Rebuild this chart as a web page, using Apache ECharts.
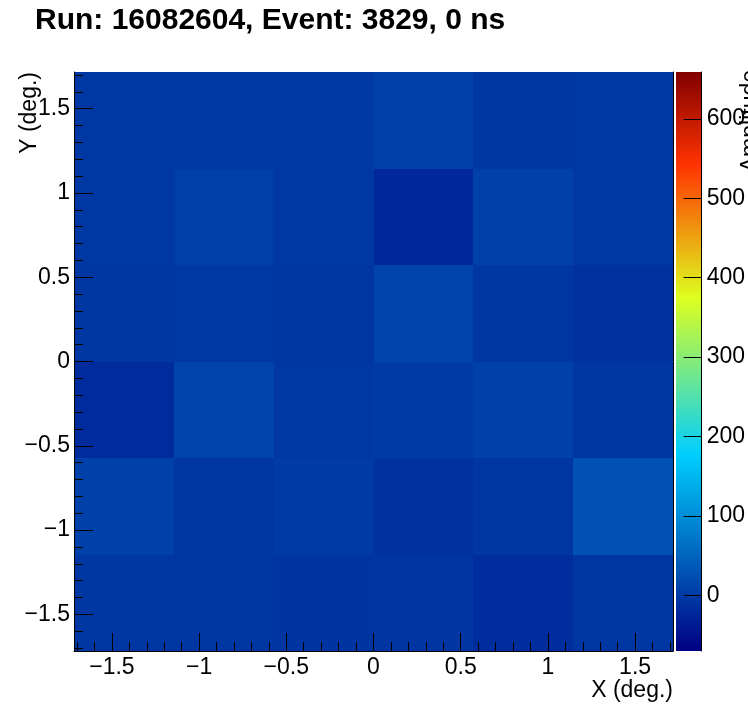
<!DOCTYPE html>
<html>
<head>
<meta charset="utf-8">
<script src="https://cdn.jsdelivr.net/npm/echarts@6/dist/echarts.min.js"></script>
<style>
  html, body { margin: 0; padding: 0; background: #ffffff; }
  #chart { width: 748px; height: 724px; }
</style>
</head>
<body>
<div id="chart"></div>
<script>
// ---- data ----
const titleText = 'Run: 16082604, Event: 3829, 0 ns';
const xTitle = 'X (deg.)';
const yTitle = 'Y (deg.)';
const zTitle = 'Amplitude';
// bin edges (deg.)
const xEdges = [-1.7175, -1.145, -0.5725, 0, 0.5725, 1.145, 1.7175];
const yEdges = [-1.7175, -1.145, -0.5725, 0, 0.5725, 1.145, 1.7175];
// amplitudes, one row per y bin, from bottom (y = -1.7) to top (y = +1.7)
const row0 = [-6, -6, -8, -7, -16, -6];
const row1 = [7, -6, -1, -11, -6, 27];
const row2 = [-19, 12, -4, -1, 6, -6];
const row3 = [-6, -4, -6, 12, -6, -11];
const row4 = [-4, 5, -4, -23, 6, -4];
const row5 = [-4, -4, -3, 6, -6, -4];
const amplitudeRows = [row0, row1, row2, row3, row4, row5];
// tick labels
const xTicks = [-1.5, -1, -0.5, 0, 0.5, 1, 1.5];
const yTicks = [-1.5, -1, -0.5, 0, 0.5, 1, 1.5];
const zTicks = [0, 100, 200, 300, 400, 500, 600];
const zRange = [-70, 659];

// ---- styling helpers ----
const FONT = '"Liberation Sans", Arial, Helvetica, sans-serif';
const paletteStops = [
  [0.00, [0, 0, 130]],
  [0.34, [0, 207, 255]],
  [0.61, [222, 255, 31]],
  [0.84, [255, 51, 0]],
  [1.00, [130, 0, 0]]
];
function paletteAt(t) {
  for (let i = 1; i < paletteStops.length; i++) {
    const [t1, c1] = paletteStops[i];
    const [t0, c0] = paletteStops[i - 1];
    if (t <= t1) {
      const f = (t - t0) / (t1 - t0);
      const c = c0.map((v, k) => Math.round(v + (c1[k] - v) * f));
      return 'rgb(' + c.join(',') + ')';
    }
  }
  return 'rgb(130,0,0)';
}
const paletteColors = [];
for (let i = 0; i <= 200; i++) paletteColors.push(paletteAt(i / 200));
const gradientStops = paletteStops.map(([t]) => ({ offset: 1 - t, color: paletteAt(t) }));

const minorTicks = [];
for (let k = -17; k <= 17; k++) minorTicks.push(k / 10);

function fmt(v) { return String(v).replace('-', '\u2212'); }

// cell data: [xLo, yLo, xHi, yHi, value]
const cells = [];
amplitudeRows.forEach((row, j) => {
  row.forEach((v, i) => {
    cells.push([xEdges[i], yEdges[j], xEdges[i + 1], yEdges[j + 1], v]);
  });
});

const xMin = xEdges[0], xMax = xEdges[xEdges.length - 1];
const yMin = yEdges[0], yMax = yEdges[yEdges.length - 1];

const chart = echarts.init(document.getElementById('chart'), null, { renderer: 'canvas' });
const black = '#000000';
const labelStyle = { color: black, fontSize: 23, fontFamily: FONT };

function rectItem(api, fill) {
  const p0 = api.coord([api.value(0), api.value(3)]);
  const p1 = api.coord([api.value(2), api.value(1)]);
  const x0 = Math.round(p0[0]), y0 = Math.round(p0[1]);
  const x1 = Math.round(p1[0]), y1 = Math.round(p1[1]);
  return {
    type: 'rect',
    shape: { x: x0, y: y0, width: x1 - x0, height: y1 - y0 },
    style: { fill: fill }
  };
}

chart.setOption({
  backgroundColor: '#ffffff',
  animation: false,
  grid: [
    { left: 74, top: 72, width: 599, height: 579 },
    { left: 676, top: 72, width: 34, height: 579 }
  ],
  xAxis: [
    { gridIndex: 0, type: 'value', min: xMin, max: xMax, position: 'bottom', z: 10,
      axisLine: { show: true, onZero: false, lineStyle: { color: black, width: 1 } },
      axisTick: { show: true, inside: true, length: 18, customValues: xTicks, lineStyle: { color: black } },
      axisLabel: Object.assign({ show: true, margin: 5, customValues: xTicks, formatter: fmt }, labelStyle),
      splitLine: { show: false } },
    { gridIndex: 0, type: 'value', min: xMin, max: xMax, position: 'bottom', z: 10,
      axisLine: { show: false, onZero: false },
      axisTick: { show: true, inside: true, length: 9, customValues: minorTicks, lineStyle: { color: black } },
      axisLabel: { show: false }, splitLine: { show: false } },
    { gridIndex: 1, type: 'value', min: 0, max: 1, show: false }
  ],
  yAxis: [
    { gridIndex: 0, type: 'value', min: yMin, max: yMax, position: 'left', z: 10,
      axisLine: { show: true, onZero: false, lineStyle: { color: black, width: 1 } },
      axisTick: { show: true, inside: true, length: 19, customValues: yTicks, lineStyle: { color: black } },
      axisLabel: Object.assign({ show: true, margin: 4, customValues: yTicks, formatter: fmt }, labelStyle),
      splitLine: { show: false } },
    { gridIndex: 0, type: 'value', min: yMin, max: yMax, position: 'left', z: 10,
      axisLine: { show: false, onZero: false },
      axisTick: { show: true, inside: true, length: 9, customValues: minorTicks, lineStyle: { color: black } },
      axisLabel: { show: false }, splitLine: { show: false } },
    { gridIndex: 0, type: 'value', min: yMin, max: yMax, position: 'right', z: 10,
      axisLine: { show: true, onZero: false, lineStyle: { color: black, width: 1 } },
      axisTick: { show: false }, axisLabel: { show: false }, splitLine: { show: false } },
    { gridIndex: 1, type: 'value', min: zRange[0], max: zRange[1], position: 'right', z: 10,
      axisLine: { show: true, onZero: false, lineStyle: { color: black, width: 1 } },
      axisTick: { show: true, inside: true, length: 18, customValues: zTicks, lineStyle: { color: black } },
      axisLabel: Object.assign({ show: true, margin: 5, customValues: zTicks, formatter: fmt }, labelStyle),
      splitLine: { show: false } }
  ],
  visualMap: {
    show: false,
    type: 'continuous',
    seriesIndex: 0,
    dimension: 4,
    min: zRange[0],
    max: zRange[1],
    inRange: { color: paletteColors }
  },
  series: [
    {
      type: 'custom',
      xAxisIndex: 0,
      yAxisIndex: 0,
      encode: { x: [0, 2], y: [1, 3] },
      data: cells,
      z: 1,
      renderItem: function (params, api) {
        return rectItem(api, api.visual('color'));
      }
    },
    {
      type: 'custom',
      xAxisIndex: 2,
      yAxisIndex: 3,
      encode: { x: [0, 2], y: [1, 3] },
      data: [[0, zRange[0], 1, zRange[1]]],
      z: 1,
      renderItem: function (params, api) {
        return rectItem(api, new echarts.graphic.LinearGradient(0, 0, 0, 1, gradientStops));
      }
    }
  ],
  graphic: [
    { type: 'text', x: 35, y: 21, z: 20,
      style: { text: titleText, fontSize: 30, fontWeight: 'bold', fontFamily: FONT, fill: black,
               align: 'left', verticalAlign: 'middle' } },
    { type: 'text', x: 673, y: 691, z: 20,
      style: { text: xTitle, fontSize: 23, fontFamily: FONT, fill: black, align: 'right', verticalAlign: 'middle' } },
    { type: 'text', x: 30, y: 72, rotation: Math.PI / 2, z: 20,
      style: { text: yTitle, fontSize: 23, fontFamily: FONT, fill: black, align: 'right', verticalAlign: 'middle' } },
    { type: 'text', x: 751, y: 70, rotation: Math.PI / 2, z: 20,
      style: { text: zTitle, fontSize: 23, fontFamily: FONT, fill: black, align: 'right', verticalAlign: 'middle' } }
  ]
});
</script>
</body>
</html>
